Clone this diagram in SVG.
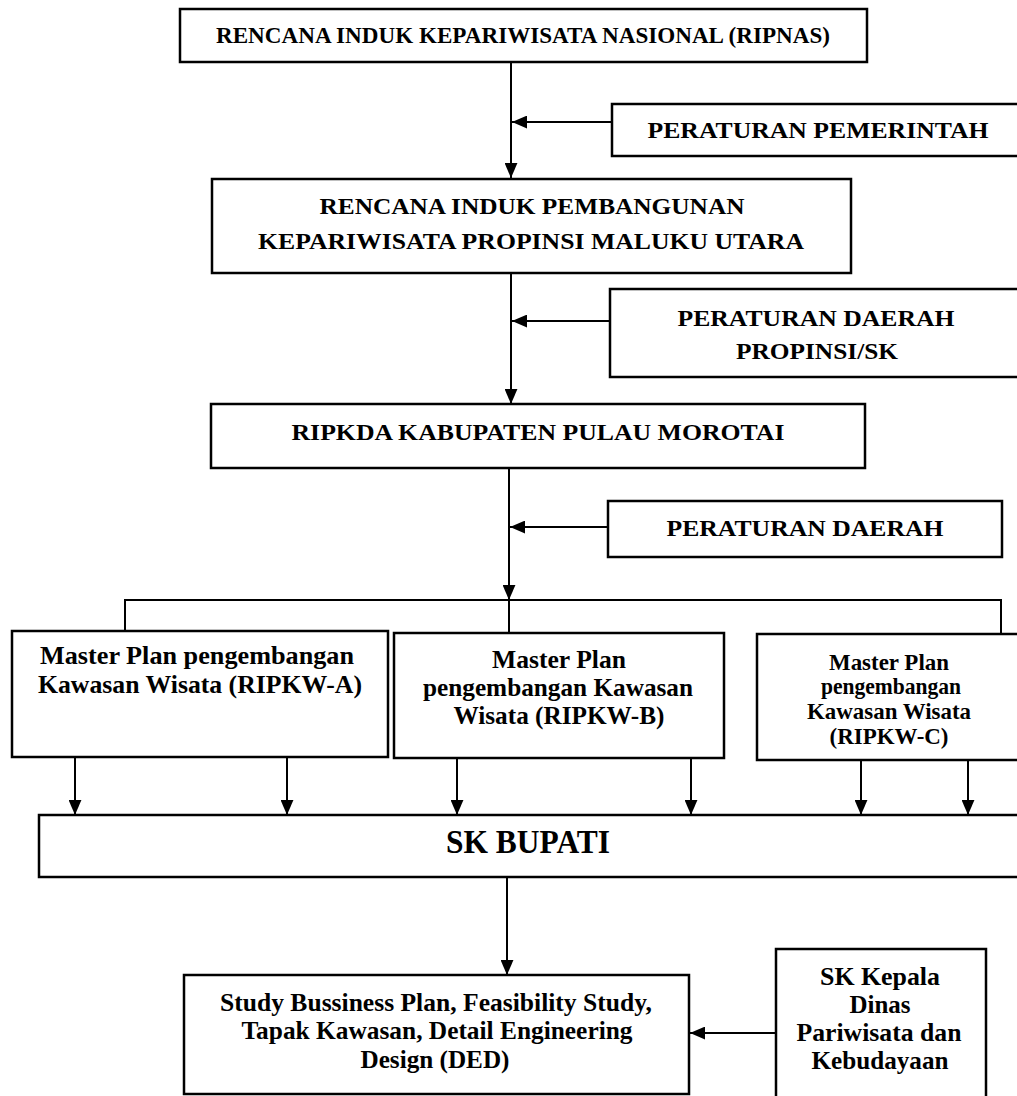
<svg xmlns="http://www.w3.org/2000/svg" width="1017" height="1096" viewBox="0 0 1017 1096">
<style>
.box{fill:#fff;stroke:#000;stroke-width:2.5}
.t{font-family:"Liberation Serif","Times New Roman",serif;font-weight:bold;fill:#000;text-anchor:middle}
.c{fill:none;stroke:#000;stroke-width:2}
</style>
<defs>
<marker id="ah" viewBox="0 0 14 12" refX="14" refY="6" markerWidth="15" markerHeight="13" markerUnits="userSpaceOnUse" orient="auto">
<path d="M0,0 L14,6 L0,12 Z" fill="#000"/>
</marker>
</defs>
<rect width="1017" height="1096" fill="#fff"/>

<g id="connectors">
<line class="c" x1="511" y1="62" x2="511" y2="178" marker-end="url(#ah)"/>
<line class="c" x1="612" y1="122" x2="512" y2="122" marker-end="url(#ah)"/>
<line class="c" x1="511" y1="273" x2="511" y2="404" marker-end="url(#ah)"/>
<line class="c" x1="610" y1="321" x2="512" y2="321" marker-end="url(#ah)"/>
<line class="c" x1="509" y1="468" x2="509" y2="600" marker-end="url(#ah)"/>
<line class="c" x1="608" y1="527" x2="510" y2="527" marker-end="url(#ah)"/>
<polyline class="c" points="125,631 125,600 1001,600 1001,634"/>
<line class="c" x1="509" y1="600" x2="509" y2="633"/>
<line class="c" x1="75" y1="757" x2="75" y2="815" marker-end="url(#ah)"/>
<line class="c" x1="287" y1="757" x2="287" y2="815" marker-end="url(#ah)"/>
<line class="c" x1="457" y1="758" x2="457" y2="815" marker-end="url(#ah)"/>
<line class="c" x1="691" y1="758" x2="691" y2="815" marker-end="url(#ah)"/>
<line class="c" x1="861" y1="760" x2="861" y2="815" marker-end="url(#ah)"/>
<line class="c" x1="968" y1="760" x2="968" y2="815" marker-end="url(#ah)"/>
<line class="c" x1="507" y1="877" x2="507" y2="975" marker-end="url(#ah)"/>
<line class="c" x1="776" y1="1033" x2="690" y2="1033" marker-end="url(#ah)"/>
</g>

<g id="ripnas">
<rect class="box" x="180" y="9" width="687" height="53"/>
<text class="t" x="523" y="43" font-size="23" textLength="614" lengthAdjust="spacingAndGlyphs">RENCANA INDUK KEPARIWISATA NASIONAL (RIPNAS)</text>
</g>

<g id="pp">
<rect class="box" x="612" y="104" width="410" height="52"/>
<text class="t" x="818" y="138" font-size="23" textLength="341" lengthAdjust="spacingAndGlyphs">PERATURAN PEMERINTAH</text>
</g>

<g id="ripp-malut">
<rect class="box" x="212" y="179" width="639" height="94"/>
<text class="t" x="532" y="214" font-size="23" textLength="425" lengthAdjust="spacingAndGlyphs">RENCANA INDUK PEMBANGUNAN</text>
<text class="t" x="531" y="249" font-size="23" textLength="546" lengthAdjust="spacingAndGlyphs">KEPARIWISATA PROPINSI MALUKU UTARA</text>
</g>

<g id="perda-prop">
<rect class="box" x="610" y="289" width="412" height="88"/>
<text class="t" x="816" y="326" font-size="23" textLength="277" lengthAdjust="spacingAndGlyphs">PERATURAN DAERAH</text>
<text class="t" x="817" y="359" font-size="23" textLength="162" lengthAdjust="spacingAndGlyphs">PROPINSI/SK</text>
</g>

<g id="ripkda">
<rect class="box" x="211" y="404" width="654" height="64"/>
<text class="t" x="538" y="440" font-size="23" textLength="493" lengthAdjust="spacingAndGlyphs">RIPKDA KABUPATEN PULAU MOROTAI</text>
</g>

<g id="perda">
<rect class="box" x="608" y="501" width="394" height="56"/>
<text class="t" x="805" y="536" font-size="23" textLength="277" lengthAdjust="spacingAndGlyphs">PERATURAN DAERAH</text>
</g>

<g id="ripkw-a">
<rect class="box" x="12" y="631" width="376" height="126"/>
<text class="t" x="197" y="664" font-size="25" textLength="314" lengthAdjust="spacingAndGlyphs">Master Plan pengembangan</text>
<text class="t" x="200" y="693" font-size="25" textLength="324" lengthAdjust="spacingAndGlyphs">Kawasan Wisata (RIPKW-A)</text>
</g>

<g id="ripkw-b">
<rect class="box" x="394" y="633" width="330" height="125"/>
<text class="t" x="559" y="668" font-size="25" textLength="134" lengthAdjust="spacingAndGlyphs">Master Plan</text>
<text class="t" x="558" y="696" font-size="25" textLength="270" lengthAdjust="spacingAndGlyphs">pengembangan Kawasan</text>
<text class="t" x="559" y="724" font-size="25" textLength="211" lengthAdjust="spacingAndGlyphs">Wisata (RIPKW-B)</text>
</g>

<g id="ripkw-c">
<rect class="box" x="757" y="634" width="265" height="126"/>
<text class="t" x="889" y="670" font-size="23" textLength="120" lengthAdjust="spacingAndGlyphs">Master Plan</text>
<text class="t" x="891" y="694" font-size="23" textLength="140" lengthAdjust="spacingAndGlyphs">pengembangan</text>
<text class="t" x="889" y="719" font-size="23" textLength="164" lengthAdjust="spacingAndGlyphs">Kawasan Wisata</text>
<text class="t" x="889" y="744" font-size="23" textLength="119" lengthAdjust="spacingAndGlyphs">(RIPKW-C)</text>
</g>

<g id="sk-bupati">
<rect class="box" x="39" y="815" width="983" height="62"/>
<text class="t" x="528" y="853" font-size="33" textLength="164" lengthAdjust="spacingAndGlyphs">SK BUPATI</text>
</g>

<g id="study">
<rect class="box" x="184" y="975" width="505" height="119"/>
<text class="t" x="436" y="1011" font-size="25" textLength="432" lengthAdjust="spacingAndGlyphs">Study Bussiness Plan, Feasibility Study,</text>
<text class="t" x="437" y="1039" font-size="25" textLength="391" lengthAdjust="spacingAndGlyphs">Tapak Kawasan, Detail Engineering</text>
<text class="t" x="435" y="1068" font-size="25" textLength="149" lengthAdjust="spacingAndGlyphs">Design (DED)</text>
</g>

<g id="sk-kepala">
<rect class="box" x="776" y="949" width="210" height="152"/>
<text class="t" x="880" y="985" font-size="25" textLength="120" lengthAdjust="spacingAndGlyphs">SK Kepala</text>
<text class="t" x="880" y="1013" font-size="25" textLength="61" lengthAdjust="spacingAndGlyphs">Dinas</text>
<text class="t" x="879" y="1041" font-size="25" textLength="165" lengthAdjust="spacingAndGlyphs">Pariwisata dan</text>
<text class="t" x="880" y="1069" font-size="25" textLength="137" lengthAdjust="spacingAndGlyphs">Kebudayaan</text>
</g>
</svg>
